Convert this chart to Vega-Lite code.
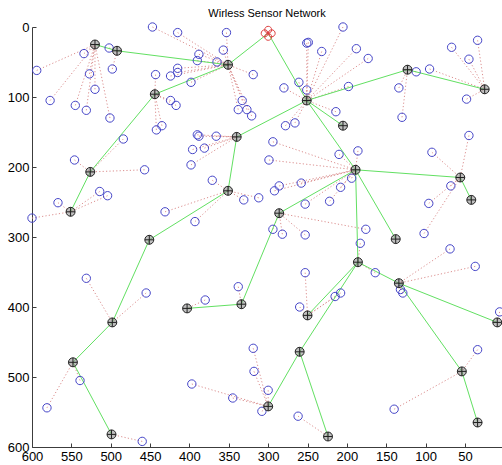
{
  "$schema": "https://vega.github.io/schema/vega-lite/v6.json",
  "width": 470,
  "height": 420,
  "autosize": "none",
  "padding": {"left": 32, "top": 27, "right": 0, "bottom": 18},
  "background": "white",
  "title": {"text": "Wirless Sensor Network", "font": "Liberation Sans", "fontSize": 11, "fontWeight": "normal", "color": "black", "anchor": "middle", "baseline": "alphabetic", "offset": -7},
  "config": {
    "view": {"stroke": null},
    "axis": {"domainColor": "#3c3c3c", "tickColor": "#3c3c3c", "labelColor": "#000000", "labelFont": "Liberation Sans", "labelFontSize": 13, "tickSize": -4, "labelPadding": 7, "grid": false, "title": null, "labelOverlap": false, "labelBound": false, "labelFlush": false}
  },
  "datasets": {
    "heads": [
      {"id": "sink", "x": 300, "y": 9, "kind": "sink"},
      {"id": "A", "x": 520, "y": 25, "kind": "head"},
      {"id": "B", "x": 492, "y": 34, "kind": "head"},
      {"id": "C", "x": 351, "y": 54, "kind": "head"},
      {"id": "D", "x": 444, "y": 96, "kind": "head"},
      {"id": "E", "x": 340, "y": 157, "kind": "head"},
      {"id": "F", "x": 251, "y": 105, "kind": "head"},
      {"id": "G", "x": 205, "y": 141, "kind": "head"},
      {"id": "H", "x": 123, "y": 61, "kind": "head"},
      {"id": "I", "x": 25, "y": 89, "kind": "head"},
      {"id": "J", "x": 526, "y": 207, "kind": "head"},
      {"id": "K", "x": 551, "y": 264, "kind": "head"},
      {"id": "L", "x": 451, "y": 304, "kind": "head"},
      {"id": "M", "x": 351, "y": 234, "kind": "head"},
      {"id": "N", "x": 403, "y": 402, "kind": "head"},
      {"id": "O", "x": 334, "y": 396, "kind": "head"},
      {"id": "P", "x": 498, "y": 422, "kind": "head"},
      {"id": "Q", "x": 548, "y": 479, "kind": "head"},
      {"id": "R", "x": 499, "y": 582, "kind": "head"},
      {"id": "S", "x": 250, "y": 412, "kind": "head"},
      {"id": "T", "x": 300, "y": 542, "kind": "head"},
      {"id": "U", "x": 260, "y": 464, "kind": "head"},
      {"id": "V", "x": 224, "y": 585, "kind": "head"},
      {"id": "W", "x": 54, "y": 492, "kind": "head"},
      {"id": "X", "x": 34, "y": 565, "kind": "head"},
      {"id": "Y", "x": 9, "y": 422, "kind": "head"},
      {"id": "Z", "x": 189, "y": 204, "kind": "head"},
      {"id": "AA", "x": 286, "y": 266, "kind": "head"},
      {"id": "AB", "x": 138, "y": 303, "kind": "head"},
      {"id": "AC", "x": 186, "y": 336, "kind": "head"},
      {"id": "AD", "x": 134, "y": 366, "kind": "head"},
      {"id": "AE", "x": 56, "y": 215, "kind": "head"},
      {"id": "AF", "x": 42, "y": 247, "kind": "head"}
    ],
    "links": [
      {"from": "sink", "to": "C"}, {"from": "sink", "to": "F"},
      {"from": "A", "to": "B"}, {"from": "B", "to": "C"},
      {"from": "C", "to": "D"}, {"from": "D", "to": "J"}, {"from": "J", "to": "K"},
      {"from": "E", "to": "F"}, {"from": "E", "to": "M"}, {"from": "M", "to": "L"},
      {"from": "L", "to": "P"}, {"from": "P", "to": "Q"}, {"from": "Q", "to": "R"},
      {"from": "N", "to": "O"}, {"from": "O", "to": "AA"}, {"from": "AA", "to": "Z"},
      {"from": "F", "to": "G"}, {"from": "F", "to": "Z"}, {"from": "F", "to": "H"},
      {"from": "H", "to": "I"}, {"from": "Z", "to": "AE"}, {"from": "AE", "to": "AF"},
      {"from": "Z", "to": "AB"}, {"from": "Z", "to": "AC"}, {"from": "AC", "to": "AD"},
      {"from": "AD", "to": "Y"}, {"from": "AD", "to": "W"}, {"from": "W", "to": "X"},
      {"from": "AC", "to": "S"}, {"from": "AC", "to": "U"}, {"from": "U", "to": "T"},
      {"from": "U", "to": "V"}
    ],
    "nodes": [
      {"x": 594, "y": 62, "ch": "A"}, {"x": 577, "y": 105, "ch": "A"}, {"x": 534, "y": 38, "ch": "A"},
      {"x": 527, "y": 67, "ch": "A"}, {"x": 520, "y": 89, "ch": "A"}, {"x": 545, "y": 112, "ch": "A"},
      {"x": 531, "y": 119, "ch": "A"}, {"x": 501, "y": 130, "ch": "A"},
      {"x": 502, "y": 30, "ch": "B"}, {"x": 498, "y": 60, "ch": "B"},
      {"x": 447, "y": 0, "ch": "C"}, {"x": 415, "y": 8, "ch": "C"}, {"x": 353, "y": 8, "ch": "C"},
      {"x": 357, "y": 33, "ch": "C"}, {"x": 365, "y": 50, "ch": "C"}, {"x": 388, "y": 39, "ch": "C"},
      {"x": 390, "y": 48, "ch": "C"}, {"x": 415, "y": 59, "ch": "C"}, {"x": 415, "y": 65, "ch": "C"},
      {"x": 424, "y": 70, "ch": "C"}, {"x": 398, "y": 79, "ch": "C"}, {"x": 333, "y": 105, "ch": "C"},
      {"x": 338, "y": 118, "ch": "C"}, {"x": 327, "y": 118, "ch": "C"}, {"x": 321, "y": 127, "ch": "C"},
      {"x": 319, "y": 68, "ch": "C"},
      {"x": 443, "y": 68, "ch": "D"}, {"x": 424, "y": 105, "ch": "D"}, {"x": 417, "y": 112, "ch": "D"},
      {"x": 442, "y": 147, "ch": "D"}, {"x": 435, "y": 141, "ch": "D"},
      {"x": 390, "y": 154, "ch": "E"}, {"x": 388, "y": 156, "ch": "E"}, {"x": 366, "y": 156, "ch": "E"},
      {"x": 381, "y": 173, "ch": "E"}, {"x": 396, "y": 175, "ch": "E"}, {"x": 398, "y": 197, "ch": "E"},
      {"x": 205, "y": 0, "ch": "F"}, {"x": 251, "y": 23, "ch": "F"}, {"x": 249, "y": 22, "ch": "F"},
      {"x": 232, "y": 35, "ch": "F"}, {"x": 188, "y": 31, "ch": "F"}, {"x": 173, "y": 45, "ch": "F"},
      {"x": 261, "y": 79, "ch": "F"}, {"x": 280, "y": 87, "ch": "F"}, {"x": 251, "y": 90, "ch": "F"},
      {"x": 198, "y": 85, "ch": "F"}, {"x": 214, "y": 121, "ch": "F"}, {"x": 266, "y": 137, "ch": "F"},
      {"x": 278, "y": 141, "ch": "F"},
      {"x": 112, "y": 64, "ch": "H"}, {"x": 134, "y": 87, "ch": "H"}, {"x": 130, "y": 129, "ch": "H"},
      {"x": 67, "y": 29, "ch": "I"}, {"x": 34, "y": 19, "ch": "I"}, {"x": 45, "y": 46, "ch": "I"},
      {"x": 48, "y": 103, "ch": "I"}, {"x": 95, "y": 60, "ch": "I"},
      {"x": 546, "y": 190, "ch": "J"}, {"x": 457, "y": 204, "ch": "J"}, {"x": 484, "y": 160, "ch": "J"},
      {"x": 567, "y": 251, "ch": "K"}, {"x": 514, "y": 235, "ch": "K"}, {"x": 504, "y": 241, "ch": "K"},
      {"x": 600, "y": 273, "ch": "K"},
      {"x": 371, "y": 219, "ch": "M"}, {"x": 331, "y": 247, "ch": "M"}, {"x": 431, "y": 264, "ch": "M"},
      {"x": 393, "y": 278, "ch": "M"}, {"x": 312, "y": 244, "ch": "M"},
      {"x": 531, "y": 359, "ch": "P"}, {"x": 455, "y": 380, "ch": "P"},
      {"x": 539, "y": 505, "ch": "Q"}, {"x": 581, "y": 544, "ch": "Q"},
      {"x": 460, "y": 592, "ch": "R"},
      {"x": 380, "y": 390, "ch": "N"},
      {"x": 338, "y": 371, "ch": "O"},
      {"x": 397, "y": 510, "ch": "T"}, {"x": 345, "y": 530, "ch": "T"}, {"x": 319, "y": 459, "ch": "T"},
      {"x": 318, "y": 492, "ch": "T"}, {"x": 300, "y": 519, "ch": "T"}, {"x": 308, "y": 549, "ch": "T"},
      {"x": 262, "y": 556, "ch": "V"},
      {"x": 260, "y": 400, "ch": "S"}, {"x": 215, "y": 385, "ch": "S"}, {"x": 208, "y": 380, "ch": "S"},
      {"x": 253, "y": 351, "ch": "S"},
      {"x": 294, "y": 289, "ch": "AA"}, {"x": 282, "y": 296, "ch": "AA"}, {"x": 253, "y": 297, "ch": "AA"},
      {"x": 176, "y": 289, "ch": "AA"},
      {"x": 294, "y": 164, "ch": "Z"}, {"x": 299, "y": 190, "ch": "Z"}, {"x": 210, "y": 182, "ch": "Z"},
      {"x": 186, "y": 177, "ch": "Z"}, {"x": 286, "y": 227, "ch": "Z"}, {"x": 292, "y": 234, "ch": "Z"},
      {"x": 258, "y": 223, "ch": "Z"}, {"x": 208, "y": 229, "ch": "Z"}, {"x": 222, "y": 249, "ch": "Z"},
      {"x": 253, "y": 253, "ch": "Z"}, {"x": 194, "y": 216, "ch": "Z"},
      {"x": 164, "y": 351, "ch": "AC"}, {"x": 183, "y": 309, "ch": "AC"},
      {"x": 132, "y": 375, "ch": "AD"}, {"x": 129, "y": 380, "ch": "AD"}, {"x": 69, "y": 317, "ch": "AD"},
      {"x": 37, "y": 342, "ch": "AD"},
      {"x": 68, "y": 227, "ch": "AE"}, {"x": 96, "y": 252, "ch": "AE"}, {"x": 102, "y": 295, "ch": "AE"},
      {"x": 92, "y": 179, "ch": "AE"}, {"x": 45, "y": 155, "ch": "AE"},
      {"x": 34, "y": 461, "ch": "W"}, {"x": 140, "y": 546, "ch": "W"},
      {"x": 6, "y": 407, "ch": "Y"}
    ]
  },
  "encoding": {
    "x": {"field": "x", "type": "quantitative", "scale": {"domain": [600, 3], "nice": false, "zero": false}, "axis": {"values": [600, 550, 500, 450, 400, 350, 300, 250, 200, 150, 100, 50]}},
    "y": {"field": "y", "type": "quantitative", "scale": {"domain": [0, 600], "reverse": true, "nice": false, "zero": false}, "axis": {"values": [0, 100, 200, 300, 400, 500, 600]}}
  },
  "layer": [
    {
      "data": {"name": "nodes"},
      "transform": [{"lookup": "ch", "from": {"data": {"name": "heads"}, "key": "id", "fields": ["x", "y"]}, "as": ["cx", "cy"]}],
      "mark": {"type": "rule", "color": "#dc9090", "strokeWidth": 1, "strokeDash": [1.2, 2.2]},
      "encoding": {"x2": {"field": "cx"}, "y2": {"field": "cy"}}
    },
    {
      "data": {"name": "links"},
      "transform": [
        {"lookup": "from", "from": {"data": {"name": "heads"}, "key": "id", "fields": ["x", "y"]}},
        {"lookup": "to", "from": {"data": {"name": "heads"}, "key": "id", "fields": ["x", "y"]}, "as": ["x2", "y2"]}
      ],
      "mark": {"type": "rule", "color": "#62e062", "strokeWidth": 1},
      "encoding": {"x2": {"field": "x2"}, "y2": {"field": "y2"}}
    },
    {
      "data": {"name": "nodes"},
      "mark": {"type": "point", "shape": "circle", "filled": false, "stroke": "#4646c8", "strokeWidth": 1, "size": 70, "opacity": 1}
    },
    {
      "data": {"name": "heads"},
      "transform": [{"filter": "datum.kind === 'head'"}],
      "mark": {"type": "point", "shape": "M -1,0 A 1,1 0 1,1 1,0 A 1,1 0 1,1 -1,0 M -1,0 L 1,0 M 0,-1 L 0,1", "filled": false, "fill": "#8a8a8a", "fillOpacity": 0.55, "stroke": "#222222", "strokeWidth": 1, "size": 80, "opacity": 1}
    },
    {
      "data": {"name": "heads"},
      "transform": [{"filter": "datum.kind === 'sink'"}],
      "mark": {"type": "point", "shape": "M -0.5,-0.5 A 0.5,0.5 0 1,1 0.5,-0.5 A 0.5,0.5 0 1,1 -0.5,-0.5 M 0,0 A 0.5,0.5 0 1,1 1,0 A 0.5,0.5 0 1,1 0,0 M -0.5,0.5 A 0.5,0.5 0 1,1 0.5,0.5 A 0.5,0.5 0 1,1 -0.5,0.5 M -1,0 A 0.5,0.5 0 1,1 0,0 A 0.5,0.5 0 1,1 -1,0 M -0.25,-0.25 L 0.25,0.25 M -0.25,0.25 L 0.25,-0.25", "filled": false, "stroke": "#dd4040", "strokeWidth": 1, "size": 196, "opacity": 1}
    }
  ]
}
